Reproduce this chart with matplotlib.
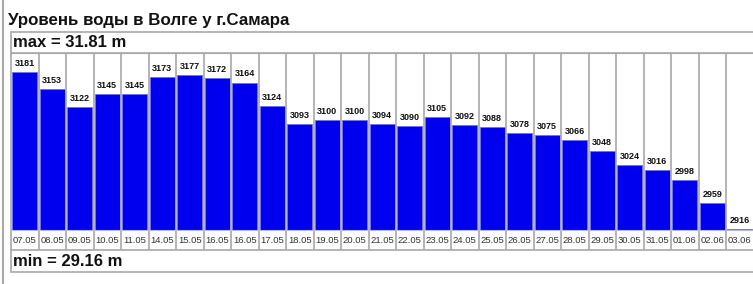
import matplotlib.pyplot as plt
from matplotlib.patches import Rectangle
from matplotlib.lines import Line2D

# Уровень воды, см (метры * 100)
dates = ['07.05', '08.05', '09.05', '10.05', '11.05', '14.05', '15.05', '16.05', '16.05',
         '17.05', '18.05', '19.05', '20.05', '21.05', '22.05', '23.05', '24.05', '25.05',
         '26.05', '27.05', '28.05', '29.05', '30.05', '31.05', '01.06', '02.06', '03.06']
levels = [3181, 3153, 3122, 3145, 3145, 3173, 3177, 3172, 3164,
          3124, 3093, 3100, 3100, 3094, 3090, 3105, 3092, 3088,
          3078, 3075, 3066, 3048, 3024, 3016, 2998, 2959, 2916]
title = 'Уровень воды в Волге у г.Самара'
max_label = 'max = 31.81 m'
min_label = 'min = 29.16 m'

W, H = 753, 284
base = 2914
top = 3214
grey = '#a8a8a8'

plt.rcParams['font.family'] = ['Liberation Sans', 'DejaVu Sans']

fig = plt.figure(figsize=(W / 100, H / 100), dpi=100)
fig.patch.set_facecolor('white')


def fx(px):
    return px / W


def fy(py):
    # py measured from top of image
    return 1 - py / H


# outer frame line on the left
fig.add_artist(Line2D([fx(3), fx(3)], [0, 1], color=grey, lw=1.5))

# title
fig.text(fx(8), fy(25), title, fontsize=12.2, fontweight='bold', color='#111111',
         ha='left', va='baseline')

# max / min boxes
fig.add_artist(Rectangle((fx(11), fy(53)), fx(760), 21 / H, facecolor='white',
                         edgecolor=grey, lw=1.2))
fig.text(fx(13), fy(47), max_label, fontsize=12, fontweight='bold', color='#111111',
         ha='left', va='baseline')
fig.add_artist(Rectangle((fx(11), fy(272)), fx(760), 22 / H, facecolor='white',
                         edgecolor=grey, lw=1.2))
fig.text(fx(13), fy(266), min_label, fontsize=12, fontweight='bold', color='#111111',
         ha='left', va='baseline')

# bar chart area
ax = fig.add_axes([fx(11), fy(230), fx(742.5), (230 - 53) / H])
x = list(range(len(levels)))
heights = [v - base for v in levels]
ax.bar(x, heights, bottom=base, width=0.9, color='#0000ee', edgecolor='#6c6cff', lw=0.6)
for xi, v in zip(x, levels):
    ax.annotate(str(v), (xi, v), xytext=(0, 3), textcoords='offset points',
                ha='center', va='bottom', fontsize=6.5, fontweight='bold', color='#111111')

ax.set_xlim(-0.5, len(levels) - 0.5)
ax.set_ylim(base, top)
ax.set_yticks([])
ax.set_xticks(x)
ax.set_xticklabels(dates, fontsize=6.8, color='#333333')
ax.tick_params(axis='x', length=0, pad=4)
for side in ['left', 'right']:
    ax.spines[side].set_visible(False)
ax.spines['top'].set_color(grey)
ax.spines['bottom'].set_color('#b8b8e8')

# cell separators down through the date row
ax.vlines([i - 0.5 for i in range(len(levels))], -20 / 177, 1,
          transform=ax.get_xaxis_transform(), colors=grey, lw=1.2, clip_on=False)

fig.savefig('out.png', dpi=100)
